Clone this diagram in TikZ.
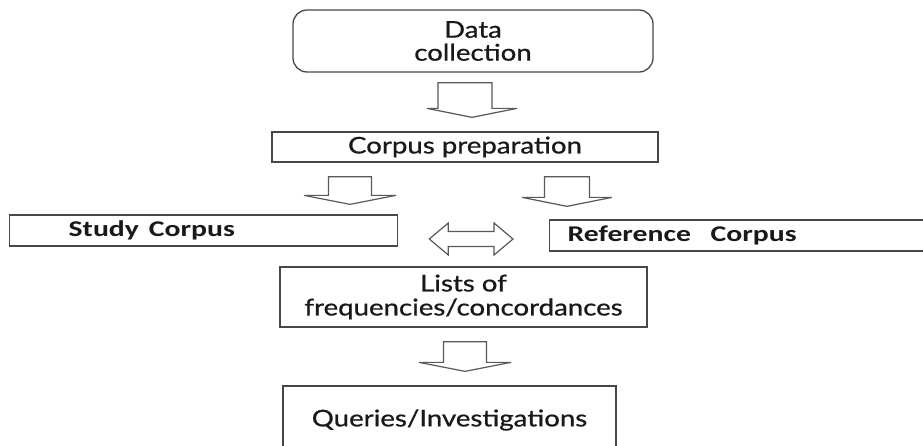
\documentclass[tikz,border=0pt]{standalone}
\usepackage{fontspec}
\usepackage{graphicx}
\usetikzlibrary{calc}
\newfontfamily\gillf{Lato}[FakeBold=0.7]
\newfontfamily\calf{Carlito}
\newcommand\gtx[1]{\scalebox{1.2}[1]{#1}}
\newcommand\ctx[1]{\scalebox{1.32}[1]{#1}}
\tikzset{
  box/.style={draw=black!72, line width=1.3pt, fill=white, inner sep=0pt, text=black!90},
  gfont/.style={font=\gillf\fontsize{23}{24}\selectfont},
  cfont/.style={font=\calf\bfseries\fontsize{22.5}{24}\selectfont},
  blk/.style={draw=black!65, line width=1.2pt, fill=white, line join=miter},
}
% #1 top-centre of shaft, #2 tip, #3 shaft half width, #4 head half width
\newcommand\blockdown[4]{%
  \draw[blk] let \p1=#1, \p2=#2 in
    ($(\x1,\y1)+(-#3,0)$) -- ($(\x1,\y1)+(#3,0)$) -- ($(\x1,\y2)+(#3,-9)$)
    -- ($(\x2,\y2)+(#4,-9)$) -- (\x2,\y2) -- ($(\x2,\y2)+(-#4,-9)$)
    -- ($(\x1,\y2)+(-#3,-9)$) -- cycle;}
% #1 left tip, #2 right tip
\newcommand\blockboth[2]{%
  \draw[blk] let \p1=#1, \p2=#2 in
    (\x1,\y1) -- ($(\x1,\y1)+(19,-16)$) -- ($(\x1,\y1)+(19,-7.5)$)
    -- ($(\x2,\y1)+(-19,-7.5)$) -- ($(\x2,\y1)+(-19,-16)$) -- (\x2,\y1)
    -- ($(\x2,\y1)+(-19,16)$) -- ($(\x2,\y1)+(-19,7.5)$)
    -- ($(\x1,\y1)+(19,7.5)$) -- ($(\x1,\y1)+(19,16)$) -- cycle;}
\begin{document}
\begin{tikzpicture}[x=1pt,y=-1pt]
\useasboundingbox[fill=white] (0,0) rectangle (923,445);

\node[box, gfont, rounded corners=14pt, minimum width=360pt, minimum height=62pt, align=center]
  (dc) at (473,41) {\gtx{Data}\\[-1pt]\gtx{collection}};
\node[box, gfont, minimum width=386pt, minimum height=30pt]
  (cp) at (465,147) {\gtx{Corpus preparation}};
\node[box, cfont, anchor=west, minimum width=388pt, text width=388pt, minimum height=31pt, align=left]
  (study) at (9,230.5) {\hspace*{59pt}\ctx{Study Corpus}};
\node[box, cfont, anchor=west, minimum width=400pt, text width=400pt, minimum height=31pt, align=left]
  (ref) at (549,235.5) {\hspace*{18pt}\ctx{Reference\ \ Corpus}};
\node[box, gfont, minimum width=367pt, minimum height=60pt, align=center]
  (lists) at (463.5,297) {\gtx{Lists of}\\\gtx{frequencies/concordances}};
\node[box, gfont, minimum width=333pt, minimum height=68pt]
  (q) at (449.5,420) {\gtx{Queries/Investigations}};

\coordinate (a1t) at ($(dc.south)+(-8,10)$);
\coordinate (a1b) at ($(cp.north)+(7,-14)$);
\blockdown{(a1t)}{(a1b)}{27}{45}

\coordinate (a2t) at ($(cp.south)+(-115,14)$);
\coordinate (a2b) at ($(a2t |- study.north)+(0,-10)$);
\blockdown{(a2t)}{(a2b)}{21.5}{46}

\coordinate (a3t) at ($(cp.south)+(102,14)$);
\coordinate (a3b) at ($(a3t |- ref.north)+(0,-13)$);
\blockdown{(a3t)}{(a3b)}{22.5}{45}

\coordinate (a4t) at ($(lists.south)+(1.5,14)$);
\coordinate (a4b) at ($(a4t |- q.north)+(0,-14)$);
\blockdown{(a4t)}{(a4b)}{21.5}{46}

\coordinate (dl) at ($(study.east)+(31,8.5)$);
\coordinate (dr) at ($(ref.west)+(-36,3.5)$);
\blockboth{(dl)}{(dr)}
\end{tikzpicture}
\end{document}
